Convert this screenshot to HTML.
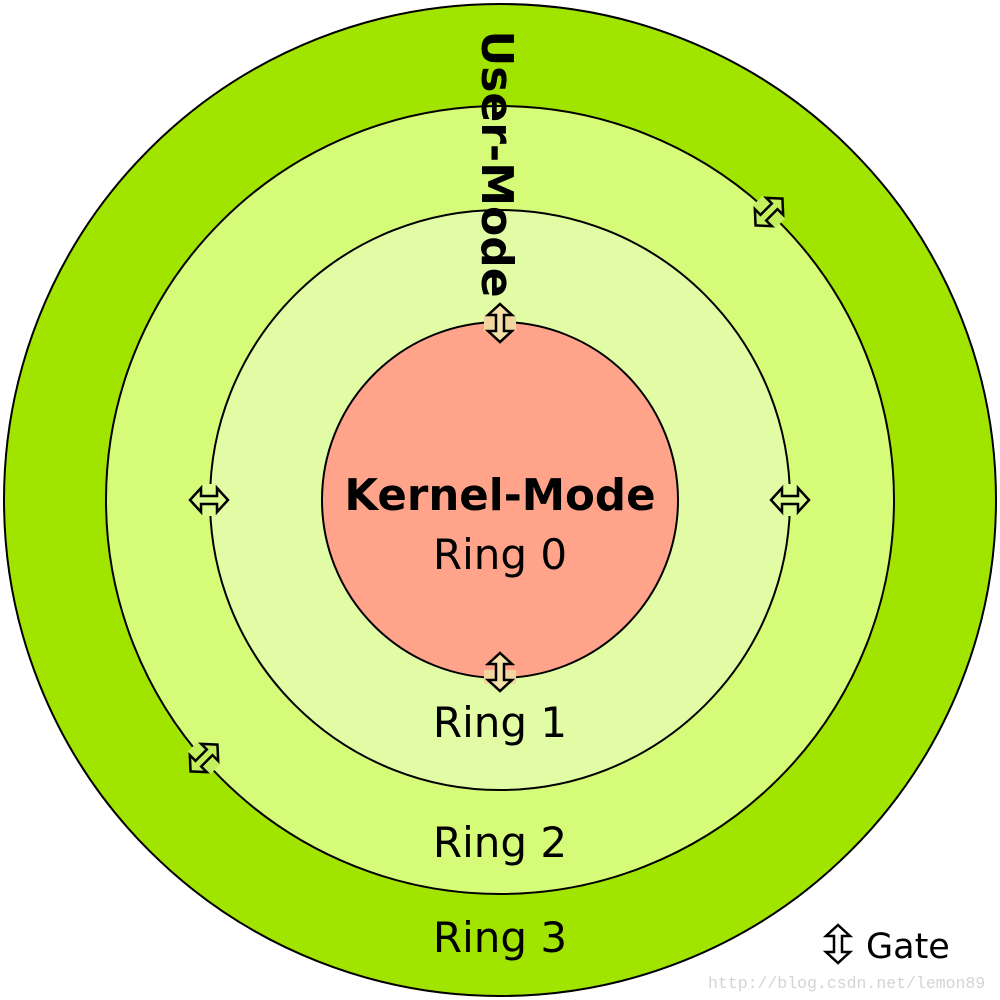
<!DOCTYPE html>
<html><head><style>body{margin:0;background:#fff}svg{display:block}</style></head>
<body>
<svg width="1000" height="1000" viewBox="0 0 1000 1000" xmlns="http://www.w3.org/2000/svg" font-family="'DejaVu Sans','Liberation Sans',sans-serif">
<defs>
<path id="g" d="M0,-19 L12,-8 L4,-8 L4,8 L12,8 L0,19 L-12,8 L-4,8 L-4,-8 L-12,-8 Z" stroke="#000" stroke-width="2.5" stroke-linejoin="miter"/>
</defs>
<circle cx="500" cy="500" r="496" fill="#a0e400" stroke="#000" stroke-width="2"/>
<circle cx="500" cy="500" r="394" fill="#d6fb78" stroke="#000" stroke-width="2"/>
<circle cx="500" cy="500" r="290" fill="#e2fca5" stroke="#000" stroke-width="2"/>
<circle cx="500" cy="500" r="178" fill="#ffa38a" stroke="#000" stroke-width="2"/>
<rect x="484" y="315" width="32" height="16" fill="#f2d6a0"/>
<rect x="484" y="670" width="32" height="14" fill="#f2d6a0"/>
<rect x="203" y="484" width="14" height="32" fill="#dcfb90"/>
<rect x="783" y="484" width="14" height="32" fill="#dcfb90"/>
<rect x="762" y="196" width="14" height="32" fill="#c4f060" transform="rotate(-45 769 212)"/>
<rect x="197" y="742" width="14" height="32" fill="#c4f060" transform="rotate(-45 204 758)"/>
<use href="#g" transform="translate(500,323)" fill="#f4e0a8"/>
<use href="#g" transform="translate(500,672)" fill="#f4e0a8"/>
<use href="#g" transform="translate(209,500) rotate(90)" fill="#dcfb90"/>
<use href="#g" transform="translate(790,500) rotate(90)" fill="#dcfb90"/>
<use href="#g" transform="translate(769,212) rotate(45)" fill="#c4f060"/>
<use href="#g" transform="translate(204,758) rotate(45)" fill="#c4f060"/>
<use href="#g" transform="translate(838,944)" fill="#fff"/>
<text x="0" y="0" transform="translate(482,164) rotate(90)" text-anchor="middle" font-weight="bold" font-size="44">User-Mode</text>
<text x="500" y="510" text-anchor="middle" font-weight="bold" font-size="43.5">Kernel-Mode</text>
<text x="500" y="569" text-anchor="middle" font-size="42">Ring 0</text>
<text x="500" y="737" text-anchor="middle" font-size="42">Ring 1</text>
<text x="500" y="857" text-anchor="middle" font-size="42">Ring 2</text>
<text x="500" y="952" text-anchor="middle" font-size="42">Ring 3</text>
<text x="866" y="958" font-size="35">Gate</text>
<text x="708" y="988" font-family="'Liberation Mono',monospace" font-size="16.5" fill="#d4d4d4">http://blog.csdn.net/lemon89</text>
</svg>
</body></html>
